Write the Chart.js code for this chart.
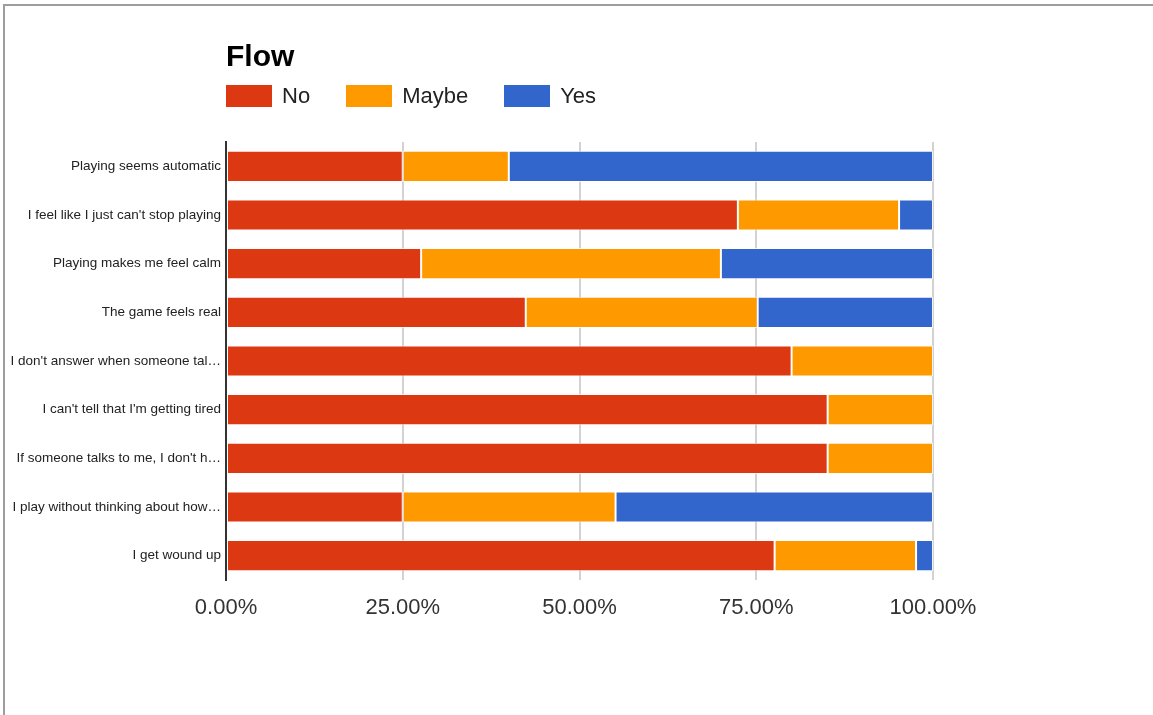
<!DOCTYPE html>
<html>
<head>
<meta charset="utf-8">
<title>Flow</title>
<script src="https://cdn.jsdelivr.net/npm/chart.js@4.4.1/dist/chart.umd.min.js"></script>
<style>
    html, body {
        margin: 0;
        padding: 0;
        background: #ffffff;
        font-family: "Liberation Sans", Arial, sans-serif;
    }
    #frame {
        position: absolute;
        left: 3px;
        top: 4px;
        width: 1150px;
        height: 711px;
        border-top: 2px solid #9e9e9e;
        border-left: 2px solid #9e9e9e;
        box-sizing: border-box;
    }
    #wrap {
        position: absolute;
        left: 0;
        top: 0;
        width: 1153px;
        height: 715px;
    }
    #title {
        position: absolute;
        left: 226px;
        top: 41px;
        font-size: 30px;
        line-height: 30px;
        font-weight: bold;
        color: #000000;
    }
    #legend {
        position: absolute;
        left: 226px;
        top: 85px;
        display: flex;
        font-size: 22px;
        line-height: 22px;
        color: #222222;
    }
    .item {
        display: flex;
        align-items: center;
        margin-right: 36px;
    }
    .swatch {
        width: 46px;
        height: 22px;
        margin-right: 10px;
    }
</style>
</head>
<body>
<div id="frame"></div>
<div id="wrap"><canvas id="flowChart" width="1153" height="715"></canvas></div>
<div id="title">Flow</div>
<div id="legend"></div>
<script>
const categories = [
    'Playing seems automatic',
    "I feel like I just can't stop playing",
    'Playing makes me feel calm',
    'The game feels real',
    "I don't answer when someone tal\u2026",
    "I can't tell that I'm getting tired",
    "If someone talks to me, I don't h\u2026",
    'I play without thinking about how\u2026',
    'I get wound up'
];

// share of answers per statement, in percent
const noValues = [25, 72.4, 27.6, 42.4, 80, 85.1, 85.1, 25, 77.6];
const maybeValues = [15, 22.8, 42.4, 32.8, 20, 14.9, 14.9, 30.1, 20];
const yesValues = [60, 4.8, 30, 24.8, 0, 0, 0, 44.9, 2.4];

const seriesNames = ['No', 'Maybe', 'Yes'];
const seriesColors = ['#dc3912', '#ff9900', '#3366cc'];
const xTicks = [0, 25, 50, 75, 100];

const datasets = [noValues, maybeValues, yesValues].map((values, i) => ({
    label: seriesNames[i],
    data: values,
    backgroundColor: seriesColors[i],
    borderColor: 'rgba(255,255,255,0.7)',
    borderWidth: 1,
    borderSkipped: false,
    barPercentage: 0.64,
    categoryPercentage: 1
}));

// legend row under the title
const legendEl = document.getElementById('legend');
datasets.forEach(ds => {
    const item = document.createElement('div');
    item.className = 'item';
    const swatch = document.createElement('span');
    swatch.className = 'swatch';
    swatch.style.background = ds.backgroundColor;
    const text = document.createElement('span');
    text.textContent = ds.label;
    item.appendChild(swatch);
    item.appendChild(text);
    legendEl.appendChild(item);
});

const ctx = document.getElementById('flowChart').getContext('2d');
new Chart(ctx, {
    type: 'bar',
    data: {
        labels: categories,
        datasets: datasets
    },
    options: {
        indexAxis: 'y',
        responsive: false,
        animation: false,
        layout: {
            padding: { left: 0, top: 142, right: 220, bottom: 75 }
        },
        plugins: {
            legend: { display: false },
            title: { display: false },
            tooltip: { enabled: false }
        },
        scales: {
            x: {
                stacked: true,
                min: 0,
                max: 100,
                afterFit: scale => { scale.height = 60; },
                afterBuildTicks: scale => {
                    scale.ticks = xTicks.map(v => ({ value: v }));
                },
                ticks: {
                    padding: 15,
                    color: '#333333',
                    font: { family: '"Liberation Sans", Arial, sans-serif', size: 22 },
                    callback: value => value.toFixed(2) + '%'
                },
                grid: {
                    color: '#d2d2d2',
                    lineWidth: 2,
                    drawTicks: false
                },
                border: { display: false }
            },
            y: {
                stacked: true,
                afterFit: scale => { scale.width = 226; },
                ticks: {
                    padding: 5,
                    color: '#222222',
                    font: { family: '"Liberation Sans", Arial, sans-serif', size: 13.5 },
                    autoSkip: false
                },
                grid: { display: false, drawTicks: false },
                border: { display: true, color: '#333333', width: 2 }
            }
        }
    }
});
</script>
</body>
</html>
